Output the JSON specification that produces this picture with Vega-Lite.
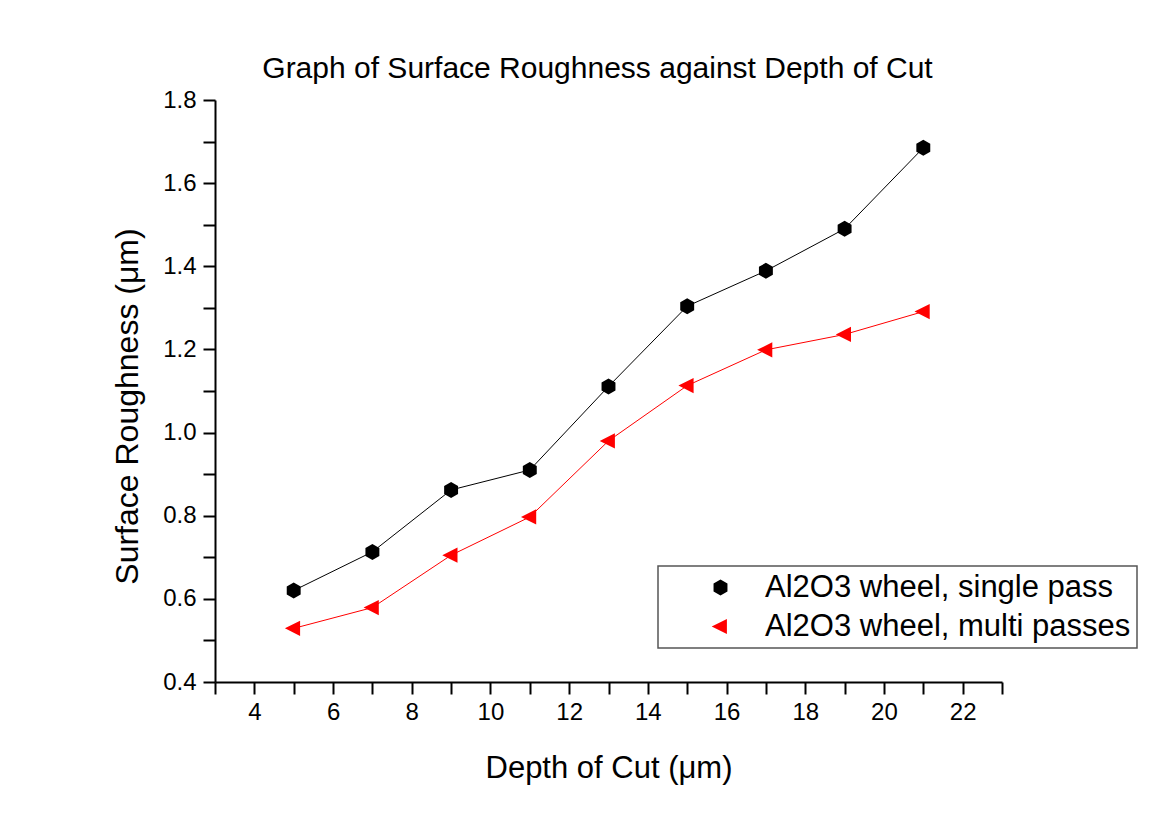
{
  "$schema": "https://vega.github.io/schema/vega-lite/v6.json",
  "autosize": {"type": "none"},
  "padding": {"left": 215, "top": 100, "right": 158, "bottom": 132},
  "width": 787,
  "height": 582,
  "background": "white",
  "title": {
    "text": "Graph of Surface Roughness against Depth of Cut",
    "fontSize": 30,
    "font": "Liberation Sans",
    "fontWeight": "normal",
    "color": "black",
    "dx": -11,
    "offset": 4
  },
  "config": {
    "view": {"stroke": null},
    "axis": {
      "labelFont": "Liberation Sans",
      "titleFont": "Liberation Sans",
      "labelFontSize": 24,
      "titleFontSize": 31,
      "titleFontWeight": "normal",
      "labelColor": "black",
      "titleColor": "black",
      "domainColor": "black",
      "tickColor": "black",
      "domainWidth": 2,
      "tickWidth": 2,
      "grid": false,
      "tickSize": 12
    },
    "legend": {
      "labelFont": "Liberation Sans",
      "orient": "none",
      "legendX": 443,
      "legendY": 466,
      "labelFontSize": 31,
      "labelColor": "black",
      "labelLimit": 600,
      "symbolSize": 256,
      "symbolOffset": 41,
      "labelOffset": 29,
      "padding": 6,
      "rowPadding": 7,
      "strokeColor": "#555555",
      "strokeWidth": 1.5,
      "fillColor": "white",
      "symbolStrokeWidth": 1
    }
  },
  "resolve": {"legend": {"stroke": "independent"}},
  "data": {
    "values": [
      {"depth": 5, "roughness": 0.62, "series": "Al2O3 wheel, single pass"},
      {"depth": 7, "roughness": 0.713, "series": "Al2O3 wheel, single pass"},
      {"depth": 9, "roughness": 0.862, "series": "Al2O3 wheel, single pass"},
      {"depth": 11, "roughness": 0.91, "series": "Al2O3 wheel, single pass"},
      {"depth": 13, "roughness": 1.111, "series": "Al2O3 wheel, single pass"},
      {"depth": 15, "roughness": 1.304, "series": "Al2O3 wheel, single pass"},
      {"depth": 17, "roughness": 1.389, "series": "Al2O3 wheel, single pass"},
      {"depth": 19, "roughness": 1.49, "series": "Al2O3 wheel, single pass"},
      {"depth": 21, "roughness": 1.685, "series": "Al2O3 wheel, single pass"},
      {"depth": 5, "roughness": 0.529, "series": "Al2O3 wheel, multi passes"},
      {"depth": 7, "roughness": 0.579, "series": "Al2O3 wheel, multi passes"},
      {"depth": 9, "roughness": 0.705, "series": "Al2O3 wheel, multi passes"},
      {"depth": 11, "roughness": 0.797, "series": "Al2O3 wheel, multi passes"},
      {"depth": 13, "roughness": 0.98, "series": "Al2O3 wheel, multi passes"},
      {"depth": 15, "roughness": 1.113, "series": "Al2O3 wheel, multi passes"},
      {"depth": 17, "roughness": 1.199, "series": "Al2O3 wheel, multi passes"},
      {"depth": 19, "roughness": 1.236, "series": "Al2O3 wheel, multi passes"},
      {"depth": 21, "roughness": 1.291, "series": "Al2O3 wheel, multi passes"}
    ]
  },
  "encoding": {
    "x": {
      "field": "depth",
      "type": "quantitative",
      "scale": {"domain": [3, 23], "nice": false, "zero": false},
      "axis": {
        "title": "Depth of Cut (μm)",
        "values": [3,4,5,6,7,8,9,10,11,12,13,14,15,16,17,18,19,20,21,22,23],
        "labelExpr": "datum.value % 2 == 0 ? datum.label : ''",
        "labelPadding": 6,
        "titlePadding": 29,
        "encode": {"ticks": {"update": {"y2": {"signal": "datum.value % 2 == 0 ? 12 : 6"}}}}
      }
    },
    "y": {
      "field": "roughness",
      "type": "quantitative",
      "scale": {"domain": [0.4, 1.8], "nice": false, "zero": false},
      "axis": {
        "title": "Surface Roughness (μm)",
        "titleFontSize": 32,
        "titleY": 306,
        "values": [0.4,0.5,0.6,0.7,0.8,0.9,1.0,1.1,1.2,1.3,1.4,1.5,1.6,1.7,1.8],
        "format": ".1f",
        "labelExpr": "round(datum.value * 10) % 2 == 0 ? datum.label : ''",
        "labelPadding": 7,
        "titlePadding": 18,
        "encode": {"ticks": {"update": {"x2": {"signal": "round(datum.value * 10) % 2 == 0 ? -12 : -6"}}}}
      }
    }
  },
  "layer": [
    {
      "mark": {"type": "line", "strokeWidth": 1},
      "encoding": {
        "stroke": {
          "field": "series",
          "type": "nominal",
          "legend": null,
          "scale": {
            "domain": ["Al2O3 wheel, single pass", "Al2O3 wheel, multi passes"],
            "range": ["#000000", "#ff0000"]
          }
        }
      }
    },
    {
      "mark": {"type": "point", "filled": true, "opacity": 1, "size": 256, "strokeWidth": 0},
      "encoding": {
        "shape": {
          "field": "series",
          "type": "nominal",
          "title": null,
          "scale": {
            "domain": ["Al2O3 wheel, single pass", "Al2O3 wheel, multi passes"],
            "range": [
              "M0,-1L0.87,-0.5L0.87,0.5L0,1L-0.87,0.5L-0.87,-0.5Z M-4.4,0L4.4,0",
              "M-1.1,0L0.8,-0.95L0.8,0.95Z M-4.4,0L4.4,0"
            ]
          },
          "legend": {
            "encode": {
              "symbols": {
                "fill": {"value": {"signal": "scale('color', datum.value)"}},
                "stroke": {"value": {"signal": "scale('color', datum.value)"}},
                "strokeWidth": {"value": 1},
                "size": {"value": 256},
                "opacity": {"value": 1}
              }
            }
          }
        },
        "color": {
          "field": "series",
          "type": "nominal",
          "title": null,
          "scale": {
            "domain": ["Al2O3 wheel, single pass", "Al2O3 wheel, multi passes"],
            "range": ["#000000", "#ff0000"]
          },
          "legend": {
            "encode": {
              "symbols": {
                "fill": {"value": {"signal": "scale('color', datum.value)"}},
                "stroke": {"value": {"signal": "scale('color', datum.value)"}},
                "strokeWidth": {"value": 1},
                "size": {"value": 256},
                "opacity": {"value": 1}
              }
            }
          }
        }
      }
    }
  ]
}
